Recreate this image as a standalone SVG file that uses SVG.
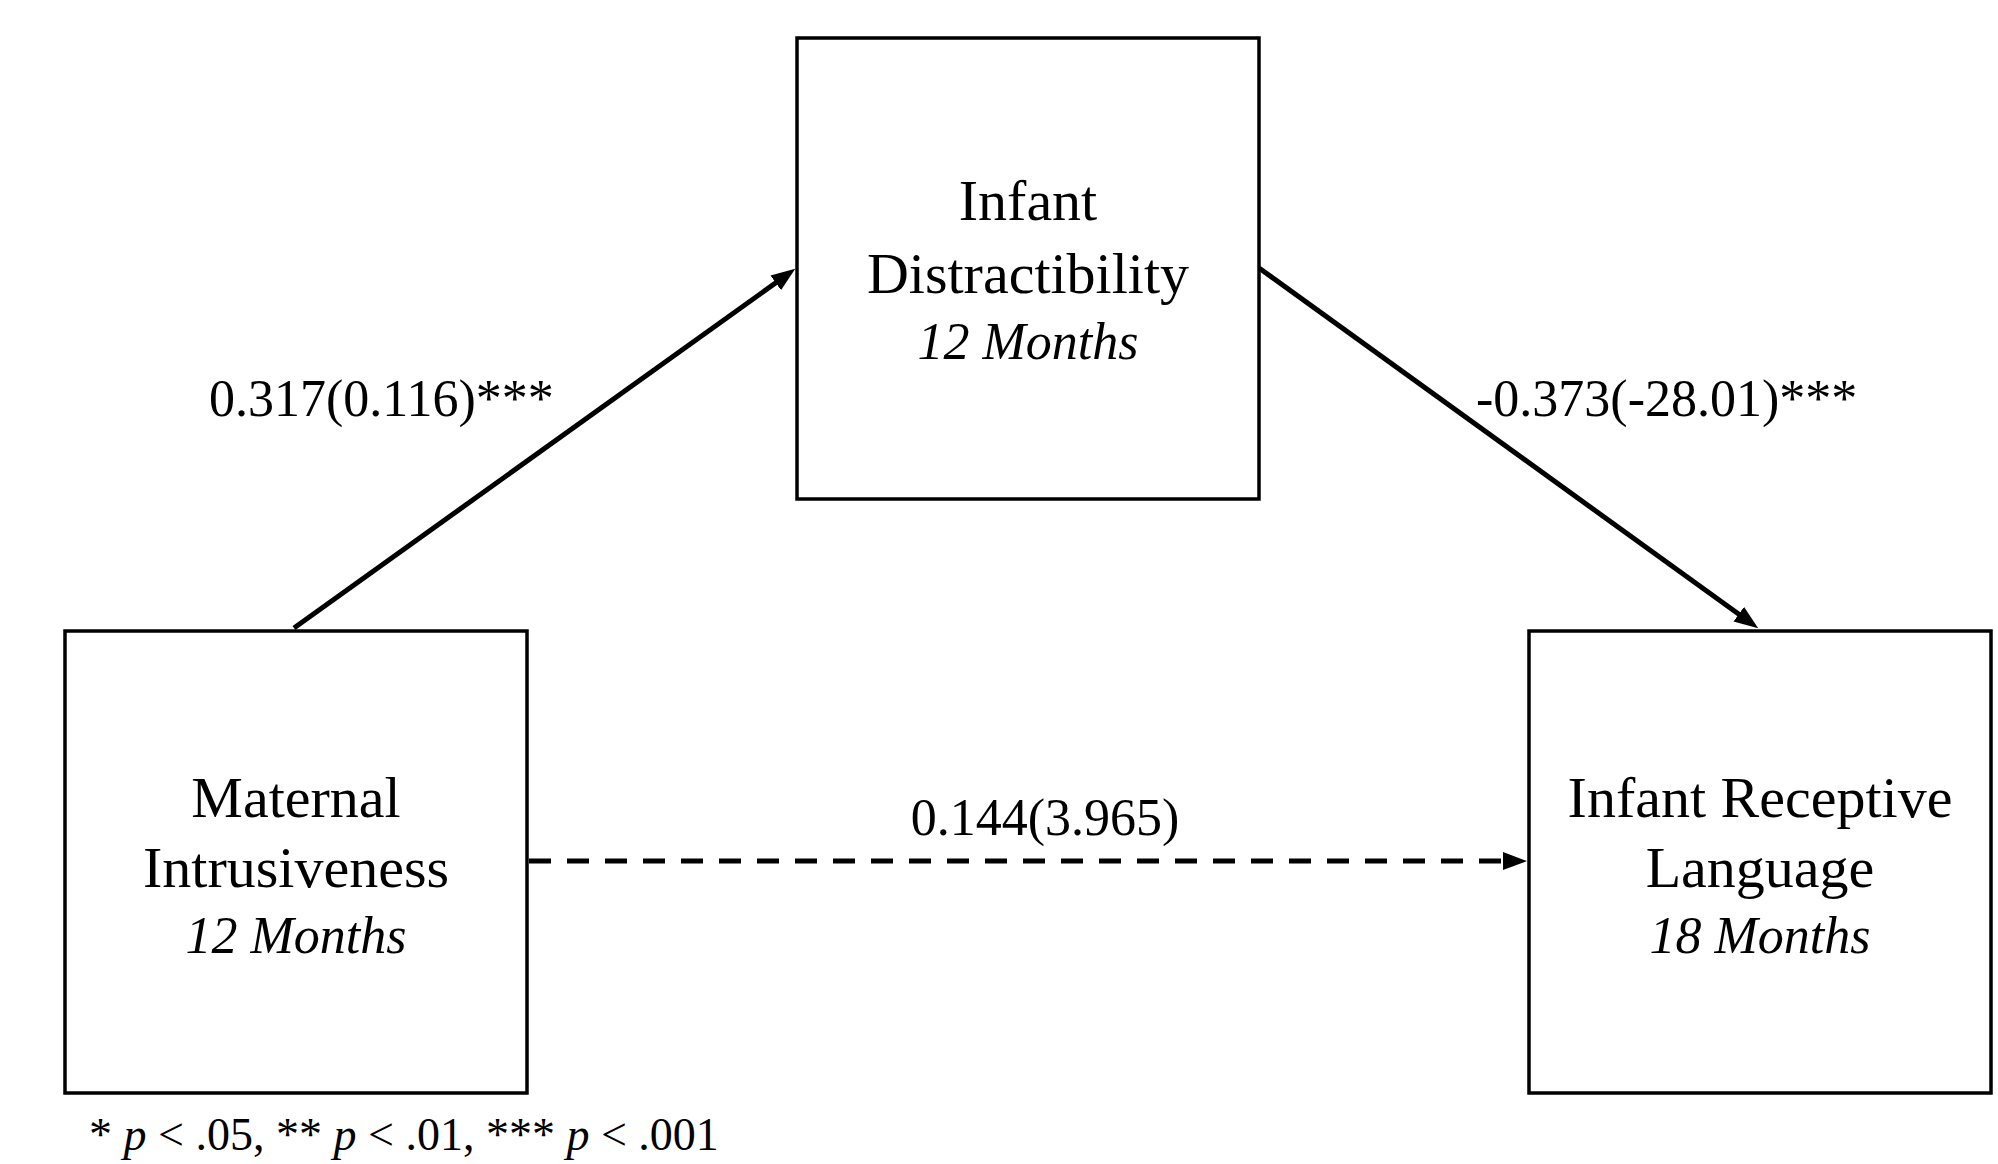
<svg xmlns="http://www.w3.org/2000/svg" width="1998" height="1164" viewBox="0 0 1998 1164">
<style>
.box{fill:#fff;stroke:#000;stroke-width:3.5}
.t{font-family:"Liberation Serif","Times New Roman",serif;font-size:58px;fill:#000;text-anchor:middle}
.i{font-style:italic}
.t.i{font-size:52px}
.lbl{font-family:"Liberation Serif","Times New Roman",serif;font-size:52px;fill:#000}
.edge{stroke:#000;stroke-width:5;fill:none}
.dash{stroke-dasharray:22 16}
</style>
<defs>
<marker id="ah" markerUnits="userSpaceOnUse" markerWidth="26" markerHeight="20" refX="4" refY="9" orient="auto">
<path d="M0,0 L24,9 L0,18 z" fill="#000"/>
</marker>
</defs>
<rect width="1998" height="1164" fill="#fff"/>
<g id="connectors">
<line class="edge" x1="294" y1="628" x2="779" y2="280.5" marker-end="url(#ah)"/>
<line class="edge" x1="1259" y1="268" x2="1742" y2="616.5" marker-end="url(#ah)"/>
<line class="edge dash" x1="529" y1="861" x2="1507" y2="861" marker-end="url(#ah)"/>
<text class="lbl" x="209" y="416">0.317(0.116)***</text>
<text class="lbl" x="1476" y="416">-0.373(-28.01)***</text>
<text class="lbl" x="1045" y="835" text-anchor="middle">0.144(3.965)</text>
</g>
<g id="node-distractibility">
<rect class="box" x="797" y="38" width="462" height="461"/>
<text class="t" x="1028" y="220">Infant</text>
<text class="t" x="1028" y="293">Distractibility</text>
<text class="t i" x="1028" y="359">12 Months</text>
</g>
<g id="node-intrusiveness">
<rect class="box" x="65" y="631" width="462" height="462"/>
<text class="t" x="296" y="817">Maternal</text>
<text class="t" x="296" y="887">Intrusiveness</text>
<text class="t i" x="296" y="953">12 Months</text>
</g>
<g id="node-language">
<rect class="box" x="1529" y="631" width="462" height="462"/>
<text class="t" x="1760" y="817">Infant Receptive</text>
<text class="t" x="1760" y="887">Language</text>
<text class="t i" x="1760" y="953">18 Months</text>
</g>
<g id="footnote">
<text class="lbl" x="89" y="1150" style="font-size:46px">* <tspan class="i">p</tspan> &lt; .05, ** <tspan class="i">p</tspan> &lt; .01, *** <tspan class="i">p</tspan> &lt; .001</text>
</g>
</svg>
